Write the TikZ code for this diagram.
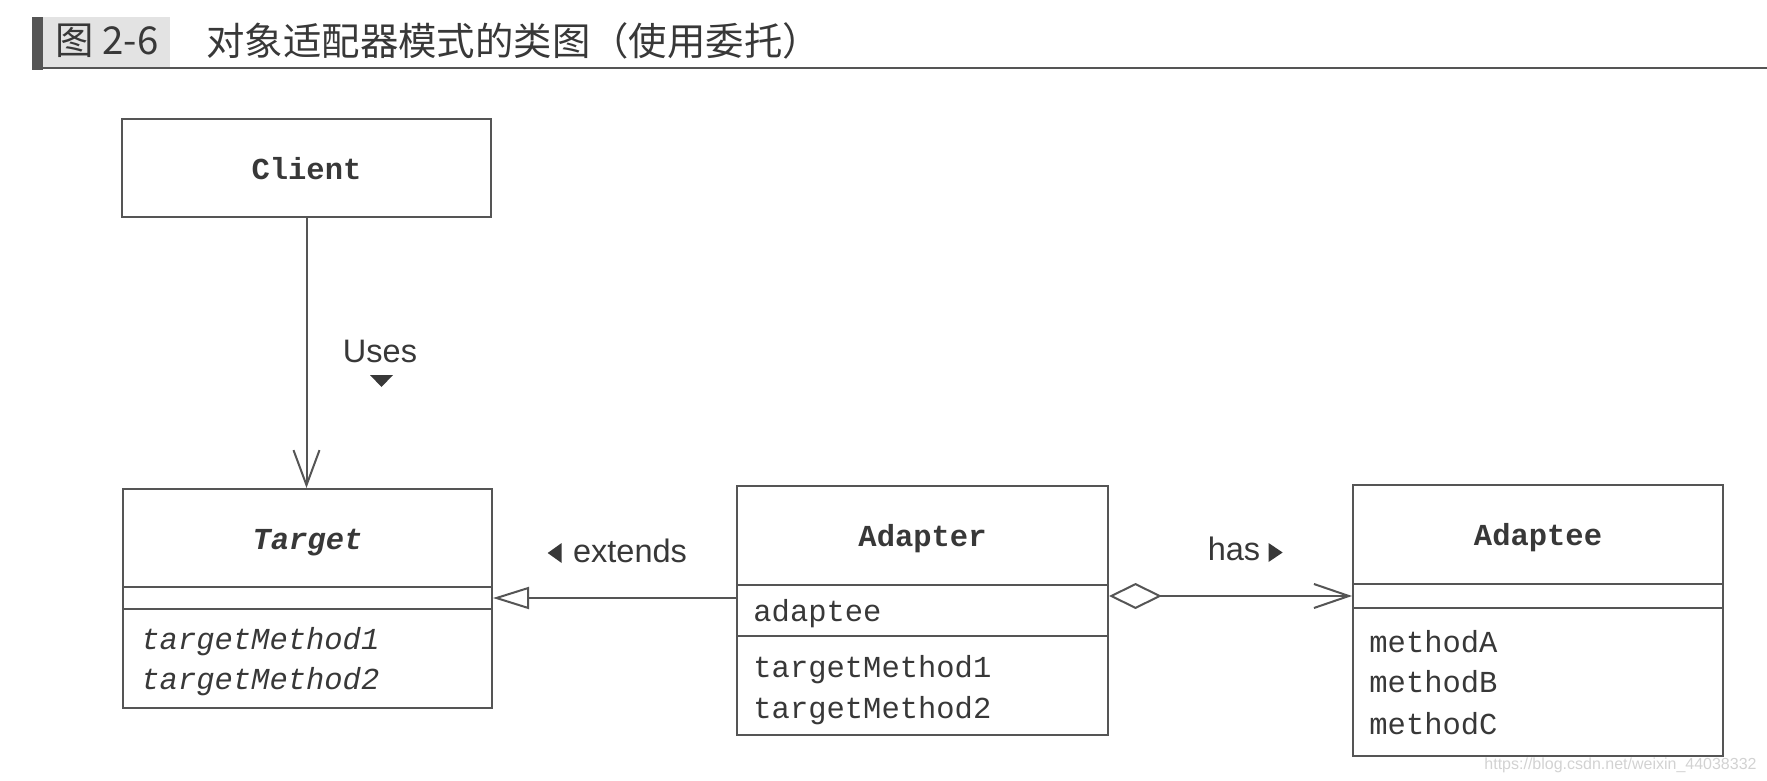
\documentclass[tikz,border=0pt]{standalone}
\usepackage{fontspec}
\setmainfont{Liberation Sans}
\setmonofont{Liberation Mono}
\newfontfamily\cjk{Noto Sans CJK SC}
\usepackage{xcolor}
\usetikzlibrary{
    arrows.meta,
    fit,
    positioning
}
\definecolor{ink}{HTML}{383838}
\definecolor{rule}{HTML}{555555}
\definecolor{tagbg}{HTML}{E3E3E3}
\definecolor{mark}{HTML}{D2D2D2}

\tikzset{
    compart/.style={
        draw=rule,
        line width=1pt,
        inner sep=0pt
    },
    classname/.style={
        font=\ttfamily\bfseries\fontsize{15.25}{18}\selectfont,
        text=ink,
        anchor=mid,
        yshift=-3pt,
        inner sep=0pt
    },
    member/.style={
        font=\ttfamily\fontsize{15.25}{18}\selectfont,
        text=ink,
        anchor=base west,
        inner sep=0pt
    },
    lbl/.style={
        font=\fontsize{16.25}{19}\selectfont,
        text=ink,
        anchor=base,
        inner sep=0pt
    },
    heading/.style={
        font=\cjk\fontsize{19.2}{23}\selectfont,
        text=ink,
        anchor=west,
        inner sep=0pt
    },
    link/.style={
        draw=rule,
        line width=1pt
    },
    marker/.style={
        fill=ink
    }
}

\begin{document}
\begin{tikzpicture}[x=0.5pt, y=0.5pt]
    \useasboundingbox (0, 0) rectangle (1767, -781);

    \fill[tagbg] (43, -17) rectangle (170, -68);
    \fill[rule] (32, -17) rectangle (43, -70);
    \draw[rule, line width=1.2pt] (32, -68) -- (1767, -68);
    \node[heading] (fignum) at (55, -41) {图 2-6};
    \node[heading] (caption) at (206, -41) {对象适配器模式的类图（使用委托）};

    \node[compart, fit={(122, -119) (491, -217)}] (client) {};
    \node[classname] (client-name) at (client.center) {Client};

    \node[compart, fit={(123, -489) (492, -587)}] (target) {};
    \node[compart, fit={(123, -587) (492, -609)}] (target-attr) {};
    \node[compart, fit={(123, -609) (492, -708)}] (target-ops) {};
    \node[classname, font=\ttfamily\bfseries\itshape\fontsize{15.25}{18}\selectfont] (target-name) at (target.center) {Target};
    \node[member, font=\ttfamily\itshape\fontsize{15.25}{18}\selectfont] (target-m1) at (141, -649) {targetMethod1};
    \node[member, font=\ttfamily\itshape\fontsize{15.25}{18}\selectfont] (target-m2) at (141, -689) {targetMethod2};

    \node[compart, fit={(737, -486) (1108, -585)}] (adapter) {};
    \node[compart, fit={(737, -585) (1108, -636)}] (adapter-attr) {};
    \node[compart, fit={(737, -636) (1108, -735)}] (adapter-ops) {};
    \node[classname] (adapter-name) at (adapter.center) {Adapter};
    \node[member] (adapter-f1) at (753, -621) {adaptee};
    \node[member] (adapter-m1) at (753, -677) {targetMethod1};
    \node[member] (adapter-m2) at (753, -718) {targetMethod2};

    \node[compart, fit={(1353, -485) (1723, -584)}] (adaptee) {};
    \node[compart, fit={(1353, -584) (1723, -608)}] (adaptee-attr) {};
    \node[compart, fit={(1353, -608) (1723, -756)}] (adaptee-ops) {};
    \node[classname] (adaptee-name) at (adaptee.center) {Adaptee};
    \node[member] (adaptee-ma) at (1369, -652) {methodA};
    \node[member] (adaptee-mb) at (1369, -692) {methodB};
    \node[member] (adaptee-mc) at (1369, -734) {methodC};

    \draw[link, -{Straight Barb[length=17.5pt, width=13pt]}] (client.south) -- (client.south |- target.north);
    \draw[link, -{Triangle[open, length=18pt, width=11pt, fill=white]}] (adapter.west |- target-attr.east) -- (target-attr.east);
    \draw[
        link,
        {Diamond[open, length=26.5pt, width=13pt, fill=white]}-{Straight Barb[length=17.5pt, width=12pt]}
    ] (adapter.east |- adaptee-attr.west) -- (adaptee-attr.west);

    \node[lbl] (uses) at (380, -362) {Uses};
    \fill[marker] (uses.base) ++(-10, -13) -- ++(23, 0) -- ++(-11.5, -12) -- cycle;
    \node[lbl] (extends) at (630, -562) {extends};
    \fill[marker] (extends.base west) ++(-11, -1) -- ++(0, 20) -- ++(-14, -10) -- cycle;
    \node[lbl] (has) at (1234, -560) {has};
    \fill[marker] (has.base east) ++(8, -2) -- ++(0, 19) -- ++(14, -9.5) -- cycle;

    \node[font=\fontsize{8}{10}\selectfont, text=mark, anchor=base east, inner sep=0pt] (source) at (1757, -769) {https://blog.csdn.net/weixin\_44038332};
\end{tikzpicture}
\end{document}
